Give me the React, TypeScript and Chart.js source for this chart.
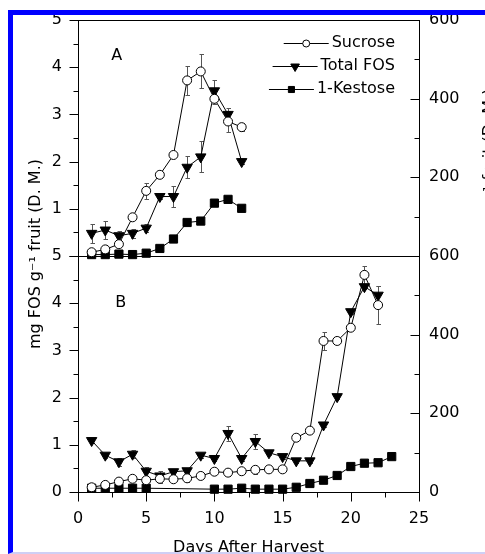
import React, { useEffect, useRef } from 'react';
import { Chart, registerables } from 'chart.js';

Chart.register(...registerables);

const FONT_FAMILY = "'DejaVu Sans', sans-serif";
const INK = '#000000';

// ---- Panel A ----
const daysA = [1, 2, 3, 4, 5, 6, 7, 8, 9, 10, 11, 12];
const sucroseA = [0.08, 0.14, 0.25, 0.82, 1.38, 1.72, 2.14, 3.72, 3.91, 3.33, 2.85, 2.73];
const sucroseErrA = [0, 0, 0.03, 0.05, 0.17, 0.05, 0.05, 0.3, 0.36, 0.1, 0.22, 0.08];
const totalFosA = [0.48, 0.55, 0.43, 0.48, 0.59, 1.26, 1.26, 1.88, 2.1, 3.5, 3.0, 2.0];
const totalFosErrA = [0.2, 0.2, 0.1, 0.1, 0.08, 0.05, 0.22, 0.23, 0.33, 0.23, 0.14, 0.05];
const kestoseA = [0.03, 0.03, 0.04, 0.03, 0.06, 0.16, 0.36, 0.71, 0.74, 1.12, 1.2, 1.01];

// ---- Panel B ----
const daysB = [1, 2, 3, 4, 5, 6, 7, 8, 9, 10, 11, 12, 13, 14, 15, 16, 17, 18, 19, 20, 21, 22];
const sucroseB = [0.1, 0.15, 0.22, 0.28, 0.25, 0.28, 0.27, 0.29, 0.34, 0.43, 0.41, 0.44, 0.47, 0.48, 0.48, 1.15, 1.3, 3.2, 3.2, 3.48, 4.6, 3.96];
const sucroseErrB = [0.03, 0.03, 0.05, 0.05, 0.08, 0.08, 0.05, 0.08, 0.05, 0.08, 0.08, 0.06, 0.08, 0.06, 0.05, 0.05, 0.05, 0.2, 0.05, 0.05, 0.19, 0.4];
const totalFosB = [1.09, 0.78, 0.64, 0.8, 0.44, 0.34, 0.43, 0.45, 0.78, 0.71, 1.24, 0.71, 1.07, 0.83, 0.75, 0.66, 0.66, 1.42, 2.02, 3.82, 4.35, 4.17];
const totalFosErrB = [0.05, 0.05, 0.08, 0.08, 0.1, 0.1, 0.05, 0.05, 0.05, 0.05, 0.16, 0.05, 0.15, 0.05, 0.05, 0.05, 0.05, 0.05, 0.05, 0.05, 0.05, 0.2];
const kestoseDaysB = [1, 2, 3, 4, 5, 10, 11, 12, 13, 14, 15, 16, 17, 18, 19, 20, 21, 22, 23];
const kestoseB = [0.08, 0.08, 0.08, 0.08, 0.08, 0.06, 0.06, 0.08, 0.06, 0.06, 0.06, 0.1, 0.18, 0.25, 0.35, 0.54, 0.61, 0.62, 0.75];

// ---- Text ----
const seriesNames = ['Sucrose', 'Total FOS', '1-Kestose'];
const panelLabels = ['A', 'B'];
const panelLabelPos = [{ x: 2.83, y: 4.25 }, { x: 3.13, y: 4.01 }];
const leftTitle = 'mg FOS g\u207B\u00B9 fruit (D. M.)';
const rightTitle = 'mg g\u207B\u00B9 fruit (D. M.)';
const xTitle = 'Days After Harvest';

// axis ranges / steps
const xRange = [0, 25];
const xMajor = 5;
const xMinor = 2.5;
const leftRange = [0, 5];
const leftMajor = 1;
const leftMinor = 0.5;
const rightRange = [0, 600];
const rightMajor = 200;
const rightMinor = 100;

const MAJOR_LEN = 9;
const MINOR_LEN = 5;

const pts = (xs: number[], ys: number[]) => xs.map((x, i) => ({ x, y: ys[i] }));

const circleStyle = {
  pointStyle: 'circle',
  pointRadius: 4.5,
  pointBackgroundColor: '#ffffff',
  pointBorderColor: INK,
  pointBorderWidth: 1,
  legendRadius: 3.5,
};
const triStyle = {
  pointStyle: 'triangle',
  pointRotation: 180,
  pointRadius: 6,
  pointBackgroundColor: INK,
  pointBorderColor: INK,
  pointBorderWidth: 1,
  legendRadius: 5,
};
const rectStyle = {
  pointStyle: 'rect',
  pointRadius: 5.8,
  pointBackgroundColor: INK,
  pointBorderColor: INK,
  pointBorderWidth: 1,
  legendRadius: 4.3,
};

const lineBase = {
  borderColor: INK,
  borderWidth: 1,
  backgroundColor: INK,
  fill: false,
  tension: 0,
  clip: false as any,
};

function drawMarker(ctx: CanvasRenderingContext2D, style: any, x: number, y: number, r: number) {
  ctx.save();
  ctx.fillStyle = style.pointBackgroundColor;
  ctx.strokeStyle = style.pointBorderColor;
  ctx.lineWidth = 1;
  ctx.beginPath();
  if (style.pointStyle === 'circle') {
    ctx.arc(x, y, r, 0, Math.PI * 2);
  } else if (style.pointStyle === 'triangle') {
    let rad = (style.pointRotation || 0) * Math.PI / 180;
    ctx.moveTo(x + Math.sin(rad) * r, y - Math.cos(rad) * r);
    rad += (2 * Math.PI) / 3;
    ctx.lineTo(x + Math.sin(rad) * r, y - Math.cos(rad) * r);
    rad += (2 * Math.PI) / 3;
    ctx.lineTo(x + Math.sin(rad) * r, y - Math.cos(rad) * r);
    ctx.closePath();
  } else {
    const s = r * Math.SQRT1_2;
    ctx.rect(x - s, y - s, 2 * s, 2 * s);
  }
  ctx.fill();
  ctx.stroke();
  ctx.restore();
}

const crisp = (v: number) => Math.round(v) + 0.5;

const panelPlugin = {
  id: 'panelPlugin',
  beforeDatasetsDraw(chart: any) {
    const { ctx, chartArea, scales } = chart;
    const { left, right } = chartArea;
    ctx.save();
    ctx.strokeStyle = INK;
    ctx.lineWidth = 1;
    // panel frames
    ['yA', 'yB'].forEach((id) => {
      const s = scales[id];
      ctx.strokeRect(crisp(left), crisp(s.top), Math.round(right - left), Math.round(s.bottom - s.top));
    });
    // tick marks
    ctx.beginPath();
    ['yA', 'yB'].forEach((id) => {
      const s = scales[id];
      for (let v = leftRange[0]; v <= leftRange[1] + 1e-9; v += leftMinor) {
        const y = crisp(s.getPixelForValue(v));
        const isMajor = Math.abs(v / leftMajor - Math.round(v / leftMajor)) < 1e-6;
        ctx.moveTo(crisp(left), y);
        ctx.lineTo(crisp(left) - (isMajor ? MAJOR_LEN : MINOR_LEN), y);
      }
    });
    ['yA2', 'yB2'].forEach((id) => {
      const s = scales[id];
      for (let v = rightRange[0]; v <= rightRange[1] + 1e-9; v += rightMinor) {
        const y = crisp(s.getPixelForValue(v));
        const isMajor = Math.abs(v / rightMajor - Math.round(v / rightMajor)) < 1e-6;
        ctx.moveTo(crisp(right), y);
        ctx.lineTo(crisp(right) - (isMajor ? MAJOR_LEN : MINOR_LEN), y);
      }
    });
    const xs = scales.x;
    const yb = crisp(scales.yB.bottom);
    for (let v = xRange[0]; v <= xRange[1] + 1e-9; v += xMinor) {
      const x = crisp(xs.getPixelForValue(v));
      const isMajor = Math.abs(v / xMajor - Math.round(v / xMajor)) < 1e-6;
      ctx.moveTo(x, yb);
      ctx.lineTo(x, yb + (isMajor ? MAJOR_LEN : MINOR_LEN));
    }
    ctx.stroke();
    // error bars
    ctx.strokeStyle = '#555555';
    ctx.beginPath();
    chart.data.datasets.forEach((ds: any) => {
      if (!ds.errors) return;
      const ys = scales[ds.yAxisID];
      ds.data.forEach((p: any, j: number) => {
        const e = ds.errors[j];
        if (!e) return;
        const x = crisp(xs.getPixelForValue(p.x));
        const yTop = Math.round(ys.getPixelForValue(p.y + e)) + 0.5;
        const yBot = Math.round(ys.getPixelForValue(p.y - e)) + 0.5;
        ctx.moveTo(x, yTop);
        ctx.lineTo(x, yBot);
        ctx.moveTo(x - 2, yTop);
        ctx.lineTo(x + 2.5, yTop);
        ctx.moveTo(x - 2, yBot);
        ctx.lineTo(x + 2.5, yBot);
      });
    });
    ctx.stroke();
    ctx.restore();
  },
  afterDraw(chart: any) {
    const { ctx, chartArea, scales } = chart;
    ctx.save();
    ctx.fillStyle = INK;
    ctx.font = `16px ${FONT_FAMILY}`;

    // panel letters
    ctx.textAlign = 'center';
    ctx.textBaseline = 'middle';
    ['yA', 'yB'].forEach((id, i) => {
      const p = panelLabelPos[i];
      ctx.fillText(panelLabels[i], scales.x.getPixelForValue(p.x), scales[id].getPixelForValue(p.y));
    });

    // left title (spans both panels)
    ctx.save();
    ctx.translate(chartArea.left - 42, (chartArea.top + chartArea.bottom) / 2 - 2);
    ctx.rotate(-Math.PI / 2);
    ctx.textAlign = 'center';
    ctx.textBaseline = 'middle';
    ctx.fillText(leftTitle, 0, 0);
    ctx.restore();

    // right title (mostly outside the picture)
    ctx.save();
    ctx.translate(chartArea.right + 75, scales.yA.top + 145);
    ctx.rotate(-Math.PI / 2);
    ctx.textAlign = 'center';
    ctx.textBaseline = 'alphabetic';
    ctx.fillText(rightTitle, 0, 0);
    ctx.restore();

    // legend (panel A series)
    const legendSets = chart.data.datasets.filter((d: any) => d.panel === 'A');
    const textRight = chartArea.right - 24;
    ctx.textAlign = 'left';
    ctx.textBaseline = 'middle';
    legendSets.forEach((ds: any, i: number) => {
      const y = chartArea.top + 22.7 + i * 23.3;
      const w = ctx.measureText(ds.label).width;
      const tx = textRight - w;
      const lineEnd = tx - 3;
      const lineStart = lineEnd - 45;
      ctx.strokeStyle = INK;
      ctx.lineWidth = 1;
      ctx.beginPath();
      ctx.moveTo(lineStart, crisp(y));
      ctx.lineTo(lineEnd, crisp(y));
      ctx.stroke();
      drawMarker(ctx, ds, (lineStart + lineEnd) / 2, crisp(y), ds.legendRadius);
      ctx.fillStyle = INK;
      ctx.fillText(ds.label, tx, y);
    });
    ctx.restore();
  },
};

export default function App() {
  const canvasRef = useRef<HTMLCanvasElement | null>(null);

  useEffect(() => {
    const canvas = canvasRef.current;
    if (!canvas) return;
    Chart.defaults.font.family = FONT_FAMILY;
    Chart.defaults.font.size = 16;
    Chart.defaults.color = INK;

    const tickFont = { family: FONT_FAMILY, size: 16 };
    // tick marks are drawn by the plugin; tickLength only positions the labels
    const gridWithGap = (gap: number) => ({ display: false, drawTicks: true, tickLength: gap, drawOnChartArea: false });

    const chart = new Chart(canvas, {
      type: 'line',
      data: {
        datasets: [
          { ...lineBase, ...circleStyle, label: seriesNames[0], panel: 'A', yAxisID: 'yA', data: pts(daysA, sucroseA), errors: sucroseErrA } as any,
          { ...lineBase, ...triStyle, label: seriesNames[1], panel: 'A', yAxisID: 'yA', data: pts(daysA, totalFosA), errors: totalFosErrA } as any,
          { ...lineBase, ...rectStyle, label: seriesNames[2], panel: 'A', yAxisID: 'yA', data: pts(daysA, kestoseA) } as any,
          { ...lineBase, ...circleStyle, label: seriesNames[0], panel: 'B', yAxisID: 'yB', data: pts(daysB, sucroseB), errors: sucroseErrB } as any,
          { ...lineBase, ...triStyle, label: seriesNames[1], panel: 'B', yAxisID: 'yB', data: pts(daysB, totalFosB), errors: totalFosErrB } as any,
          { ...lineBase, ...rectStyle, label: seriesNames[2], panel: 'B', yAxisID: 'yB', data: pts(kestoseDaysB, kestoseB) } as any,
        ],
      },
      options: {
        responsive: false,
        animation: false,
        devicePixelRatio: 1,
        layout: { padding: { top: 20, left: 0, right: 0, bottom: 0 } },
        plugins: {
          legend: { display: false },
          tooltip: { enabled: false },
        },
        scales: {
          x: {
            type: 'linear',
            position: 'bottom',
            min: xRange[0],
            max: xRange[1],
            ticks: { stepSize: xMajor, padding: 0, font: tickFont, color: INK, autoSkip: false },
            grid: gridWithGap(17),
            border: { display: false },
            title: { display: true, text: xTitle, font: tickFont, color: INK, padding: { top: 0, bottom: -3 } },
            afterFit: (s: any) => { s.height = 62; },
          },
          yB: {
            type: 'linear',
            position: 'left',
            stack: 'left',
            stackWeight: 1,
            min: leftRange[0],
            max: leftRange[1],
            ticks: { stepSize: leftMajor, padding: 0, font: tickFont, color: INK, autoSkip: false },
            grid: gridWithGap(16),
            border: { display: false },
            afterFit: (s: any) => { s.width = 78; },
          },
          yA: {
            type: 'linear',
            position: 'left',
            stack: 'left',
            stackWeight: 1,
            min: leftRange[0],
            max: leftRange[1],
            ticks: {
              stepSize: leftMajor, padding: 0, font: tickFont, color: INK, autoSkip: false,
              callback: (v: any) => (v === leftRange[0] ? '' : String(v)),
            },
            grid: gridWithGap(16),
            border: { display: false },
            afterFit: (s: any) => { s.width = 78; },
          },
          yA2: {
            type: 'linear',
            position: 'right',
            stack: 'right',
            stackWeight: 1,
            min: rightRange[0],
            max: rightRange[1],
            ticks: {
              stepSize: rightMajor, padding: 0, font: tickFont, color: INK, autoSkip: false,
              callback: (v: any) => (v === rightRange[0] ? '' : String(v)),
            },
            grid: gridWithGap(10),
            border: { display: false },
            afterFit: (s: any) => { s.width = 66; },
          },
          yB2: {
            type: 'linear',
            position: 'right',
            stack: 'right',
            stackWeight: 1,
            min: rightRange[0],
            max: rightRange[1],
            ticks: { stepSize: rightMajor, padding: 0, font: tickFont, color: INK, autoSkip: false },
            grid: gridWithGap(10),
            border: { display: false },
            afterFit: (s: any) => { s.width = 66; },
          },
        } as any,
      },
      plugins: [panelPlugin],
    } as any);

    return () => chart.destroy();
  }, []);

  return (
    <div style={{ position: 'absolute', left: 0, top: 0, width: 485, height: 554, overflow: 'hidden', background: '#ffffff' }}>
      <canvas
        ref={canvasRef}
        width={485}
        height={554}
        style={{ position: 'absolute', left: 0, top: 0, width: '485px', height: '554px' }}
      />
      <div
        style={{
          position: 'absolute',
          left: 8,
          top: 10,
          width: 490,
          height: 544,
          boxSizing: 'border-box',
          borderLeft: '5px solid #0000ff',
          borderTop: '5px solid #0000ff',
          borderBottom: '2px solid #cfcff5',
          pointerEvents: 'none',
        }}
      />
    </div>
  );
}
